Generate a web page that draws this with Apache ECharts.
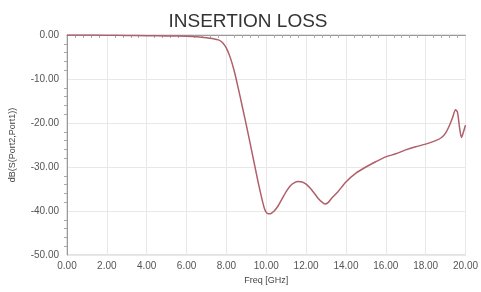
<!DOCTYPE html>
<html><head><meta charset="utf-8">
<script src="https://cdn.jsdelivr.net/npm/echarts@6/dist/echarts.min.js"></script>
<style>html,body{margin:0;padding:0;background:#fff}#c{width:481px;height:292px}</style>
</head><body><div id="c"></div>
<script>
const titleText = "INSERTION LOSS";
const xName = "Freq [GHz]";
const yName = "dB(S(Port2,Port1))";
const freq = [0,1,2,3,4,5,6,6.5,7,7.3,7.6,7.8,8.0,8.2,8.4,8.6,8.8,9.0,9.2,9.4,9.6,9.8,9.9,10.0,10.1,10.2,10.4,10.6,10.8,11.0,11.2,11.4,11.6,11.8,12.0,12.2,12.4,12.6,12.8,12.95,13.1,13.3,13.6,14.0,14.5,15.0,15.5,16.0,16.5,17.0,17.5,18.0,18.5,18.8,19.0,19.2,19.35,19.5,19.6,19.7,19.8,19.9,20.0];
const loss = [0,0,-0.05,-0.1,-0.15,-0.2,-0.3,-0.4,-0.6,-0.8,-1.1,-1.7,-3.0,-5.2,-8.3,-12.2,-16.3,-20.5,-24.8,-29.2,-33.6,-37.6,-39.3,-40.3,-40.6,-40.6,-40.0,-38.8,-37.2,-35.6,-34.3,-33.6,-33.3,-33.4,-33.9,-34.8,-35.9,-37.1,-38.0,-38.4,-38.1,-37.0,-35.6,-33.4,-31.4,-30.0,-28.8,-27.7,-27.0,-26.1,-25.4,-24.8,-24.0,-23.3,-22.3,-20.5,-18.8,-17.0,-17.6,-21.0,-23.3,-22.0,-20.5];

const chart = echarts.init(document.getElementById('c'));
chart.setOption({
  animation:false,
  title:{text:titleText,left:243,top:7,textAlign:'center',textStyle:{fontFamily:'Liberation Sans',fontSize:19,fontWeight:'normal',color:'#333'}},
  grid:{left:63,right:15,top:35,bottom:37,show:true,borderColor:'#c4c4c4',borderWidth:1},
  xAxis:{type:'value',min:0,max:20,interval:2,name:xName,nameLocation:'middle',nameGap:20,
    nameTextStyle:{fontFamily:'Liberation Sans',fontSize:9,color:'#444'},
    axisLine:{lineStyle:{color:'#999'}},
    axisTick:{show:false},
    minorTick:{show:true,splitNumber:5,length:3,lineStyle:{color:'#aaa'}},
    axisLabel:{fontFamily:'Liberation Sans',fontSize:10,color:'#555',margin:6,formatter:v=>v.toFixed(2)},
    splitLine:{lineStyle:{color:'#e8e8e8'}}},
  yAxis:{type:'value',min:-50,max:0,interval:10,name:yName,nameLocation:'middle',nameGap:50,
    nameTextStyle:{fontFamily:'Liberation Sans',fontSize:9,color:'#444'},
    axisLine:{show:true,lineStyle:{color:'#999'}},
    axisTick:{show:false},
    minorTick:{show:true,splitNumber:5,length:3,lineStyle:{color:'#aaa'}},
    axisLabel:{fontFamily:'Liberation Sans',fontSize:10,color:'#555',margin:8,formatter:v=>v.toFixed(2)},
    splitLine:{lineStyle:{color:'#e8e8e8'}}},
  series:[{type:'line',data:freq.map((f,i)=>[f,loss[i]]),showSymbol:false,smooth:0.25,
    lineStyle:{color:'#b0606a',width:1.5}}]
});
</script></body></html>
